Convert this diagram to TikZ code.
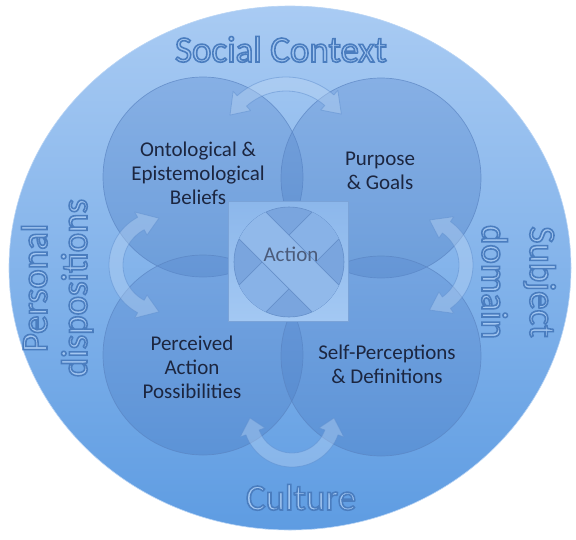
\documentclass[tikz,border=0pt]{standalone}
\usepackage{fontspec}
\setmainfont{Carlito}
\usetikzlibrary{calc}
\definecolor{bigtop}{HTML}{A9CBF3}
\definecolor{bigbot}{HTML}{5E9CE2}
\definecolor{ctop}{HTML}{5A8AD0}
\definecolor{cbot}{HTML}{4678BE}
\definecolor{cedge}{HTML}{5A84C2}
\definecolor{sqtop}{HTML}{8CB7EB}
\definecolor{sqbot}{HTML}{A3C8F3}
\definecolor{sqedge}{HTML}{7AA3D8}
\definecolor{mid}{HTML}{7AA5DE}
\definecolor{bandA}{HTML}{88B2E7}
\definecolor{bandB}{HTML}{91B9EA}
\definecolor{bandedge}{HTML}{6690CA}
\definecolor{arrfill}{HTML}{BCD6F4}
\definecolor{arredge}{HTML}{5F8FCF}
\definecolor{innertxt}{HTML}{1C2640}
\definecolor{acttxt}{HTML}{4B5B7A}
\definecolor{bigfill}{HTML}{A3C7F1}
\definecolor{bigedge}{HTML}{4A7DC0}
\newcommand\outl[1]{\special{pdf:code 2 Tr 1.6 w 0.29 0.49 0.75 RG}#1\special{pdf:code 0 Tr}}
\newcommand\cvarr[6]{%
\path[arrowshape] plot[domain=#4:#5, samples=30] ({#1+(#3+7)*cos(\x)},{#2+(#3+7)*sin(\x)})
 -- ({#1+(#3+13)*cos(#5)},{#2+(#3+13)*sin(#5)})
 -- ({#1+#3*cos(#5+#6)},{#2+#3*sin(#5+#6)})
 -- ({#1+(#3-13)*cos(#5)},{#2+(#3-13)*sin(#5)})
 -- plot[domain=#5:#4, samples=30] ({#1+(#3-7)*cos(\x)},{#2+(#3-7)*sin(\x)})
 -- ({#1+(#3-13)*cos(#4)},{#2+(#3-13)*sin(#4)})
 -- ({#1+#3*cos(#4-#6)},{#2+#3*sin(#4-#6)})
 -- ({#1+(#3+13)*cos(#4)},{#2+(#3+13)*sin(#4)})
 -- cycle;}
\begin{document}
\begin{tikzpicture}[x=1pt,y=-1pt,
  incirc/.style={top color=ctop, bottom color=cbot, fill opacity=0.35, draw=cedge, draw opacity=0.7, line width=0.7pt},
  arrowshape/.style={fill=arrfill, fill opacity=0.4, draw=arredge, draw opacity=0.5, line width=0.8pt, line join=round},
  innerlab/.style={align=center, font=\fontsize{21}{24}\selectfont, text=innertxt, inner sep=0pt},
  biglab/.style={font=\fontsize{37}{40}\selectfont, text=bigfill, inner sep=0pt}]
\useasboundingbox (0,0) rectangle (576,539);
% outer context circle
\path[top color=bigtop, bottom color=bigbot, draw=bigtop!80!white, line width=0.6pt] (290,268) ellipse [x radius=281pt, y radius=262pt];
% four overlapping circles
\path[incirc] (203,177) circle [radius=100pt];
\path[incirc] (381,178) circle [radius=100pt];
\path[incirc] (203,355) circle [radius=100pt];
\path[incirc] (381,356) circle [radius=100pt];
% central action square and woven circle
\node (sq) [draw=sqedge, line width=0.6pt, top color=sqtop, bottom color=sqbot, minimum size=120pt, inner sep=0pt] at (288,261) {};
\node (mc) [circle, draw=bandedge, line width=0.6pt, fill=mid, minimum size=110pt, inner sep=0pt] at (289,262) {};
\begin{scope}
  \clip (289,262) circle [radius=55pt];
  \path[fill=bandA, draw=bandedge, line width=0.6pt, rotate around={45:(289,262)}] (219,243) rectangle (359,281);
  \path[fill=bandB, draw=bandedge, line width=0.6pt, rotate around={-45:(289,262)}] (219,243) rectangle (359,281);
\end{scope}
% curved double arrows
\cvarr{286}{150}{66}{228}{311}{16}
\cvarr{292}{418}{42}{20}{160}{20}
\cvarr{163}{265}{47}{118}{242}{23}
\cvarr{420}{265}{46}{-55}{55}{23}
% labels
\node (act) [innerlab, text=acttxt] at (291,254) {Action};
\node (ont) [innerlab] at (198,173) {Ontological \&\\Epistemological\\Beliefs};
\node (pur) [innerlab] at (380,171) {Purpose\\\& Goals};
\node (per) [innerlab] at (192,367) {Perceived\\Action\\Possibilities};
\node (sel) [innerlab] at (387,364) {Self-Perceptions\\\& Definitions};
\node (soc) [biglab, anchor=base] at (281,62) {\outl{Social Context}};
\node (cul) [biglab, anchor=base] at (301,510) {\outl{Culture}};
\node (pers) [biglab, rotate=90, anchor=base] at (47,288) {\outl{Personal}};
\node (disp) [biglab, rotate=90, anchor=base] at (87,288) {\outl{dispositions}};
\node (subj) [biglab, rotate=-90, anchor=base] at (530,282) {\outl{Subject}};
\node (dom) [biglab, rotate=-90, anchor=base] at (482,282) {\outl{domain}};
\end{tikzpicture}
\end{document}
